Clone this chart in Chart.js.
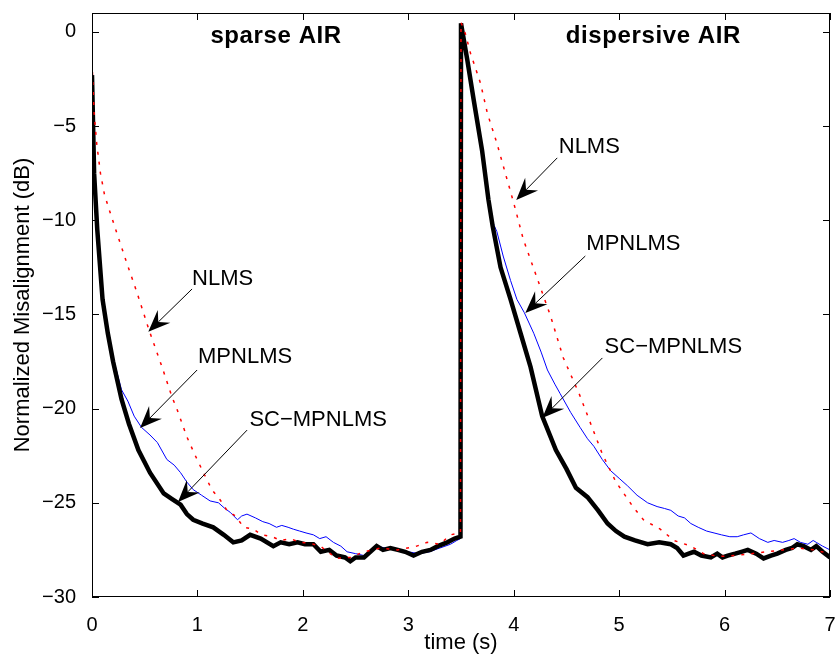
<!DOCTYPE html>
<html>
<head>
<meta charset="utf-8">
<script src="https://cdn.jsdelivr.net/npm/chart.js@4.4.1/dist/chart.umd.min.js"></script>
<style>
  html, body { margin: 0; padding: 0; background: #fff; }
  #wrap { width: 835px; height: 657px; }
</style>
</head>
<body>
<div id="wrap"><canvas id="chartMisalign"></canvas></div>
<script>
// valeurs (temps en s, désalignement en dB)
var xTicks = [0, 1, 2, 3, 4, 5, 6, 7];
var yTicks = [-30, -25, -20, -15, -10, -5, 0];

// NLMS (pointillé rouge)
var tNlms = [0, 0.02, 0.045, 0.08, 0.117, 0.155, 0.235, 0.33, 0.425, 0.544, 0.665, 0.76, 0.804, 0.9, 0.98, 1.057, 1.137, 1.216, 1.28, 1.36, 1.44, 1.53, 1.61, 1.71, 1.79, 1.88, 1.975, 2.07, 2.165, 2.26, 2.32, 2.45, 2.58, 2.74, 2.9, 3.08, 3.18, 3.3, 3.4, 3.495,
  3.5, 3.54, 3.59, 3.685, 3.75, 3.84, 3.92, 3.97, 4.02, 4.09, 4.23, 4.35, 4.47, 4.62, 4.73, 4.84, 4.97, 5.13, 5.23, 5.39, 5.52, 5.68, 5.8, 5.95, 6.1, 6.25, 6.4, 6.55, 6.7, 6.85, 7.0];
var yNlms = [-1.6, -4.3, -5.95, -7.5, -8.6, -9.3, -10.67, -12.27, -13.81, -15.88, -17.8, -19.4, -20.0, -21.5, -22.5, -23.4, -24.3, -24.85, -25.4, -25.7, -26.3, -26.4, -26.7, -26.8, -27.0, -26.9, -27.1, -27.15, -27.3, -27.7, -27.95, -27.9, -27.6, -27.4, -27.5, -27.3, -27.1, -27.2, -26.7, -26.6,
  0.5, -0.07, -1.13, -2.73, -4.32, -5.9, -7.5, -8.48, -9.5, -11.0, -13.2, -15.1, -17.3, -19.2, -20.8, -22.4, -23.9, -25.2, -25.9, -26.4, -27.0, -27.3, -27.7, -27.85, -27.8, -27.7, -27.6, -27.5, -27.4, -27.5, -27.7];

// MPNLMS (bleu fin)
var tMpnlms = [0, 0.02, 0.05, 0.1, 0.15, 0.2, 0.28, 0.34, 0.4, 0.47, 0.55, 0.62, 0.71, 0.78, 0.84, 0.9, 0.96, 1.04, 1.12, 1.2, 1.26, 1.31, 1.38, 1.42, 1.47, 1.55, 1.62, 1.68, 1.75, 1.8, 1.86, 1.91, 1.97, 2.03, 2.1, 2.16, 2.22, 2.29, 2.36, 2.42, 2.5, 2.58, 2.64, 2.7, 2.78, 2.85, 2.92, 3.0, 3.1, 3.2, 3.3, 3.4, 3.46, 3.495,
  3.5, 3.56, 3.62, 3.7, 3.76, 3.8, 3.84, 3.9, 3.97, 4.03, 4.1, 4.19, 4.26, 4.32, 4.39, 4.44, 4.54, 4.63, 4.7, 4.76, 4.84, 4.92, 5.0, 5.08, 5.17, 5.27, 5.36, 5.43, 5.49, 5.56, 5.62, 5.68, 5.75, 5.83, 5.9, 5.97, 6.05, 6.12, 6.18, 6.25, 6.33, 6.41, 6.47, 6.55, 6.61, 6.66, 6.72, 6.79, 6.84, 6.87, 6.93, 7.0];
var yMpnlms = [-2.3, -7.5, -10.5, -14.1, -15.9, -17.3, -19.0, -19.6, -20.4, -21.0, -21.4, -21.8, -22.7, -23.0, -23.4, -23.9, -24.3, -24.6, -24.9, -25.0, -25.3, -25.5, -25.9, -25.7, -25.6, -25.8, -26.0, -26.1, -26.3, -26.2, -26.3, -26.4, -26.5, -26.6, -26.7, -26.9, -26.8, -27.1, -27.3, -27.6, -27.7, -27.8, -27.5, -27.3, -27.4, -27.4, -27.5, -27.6, -27.7, -27.6, -27.4, -27.2, -27.0, -26.9,
  0.45, -1.5, -3.6, -6.3, -8.9, -10.1, -10.6, -11.9, -13.2, -14.2, -14.9, -16.0, -17.0, -17.95, -18.7, -19.2, -20.2, -21.0, -21.6, -22.0, -22.7, -23.3, -23.7, -24.1, -24.6, -25.0, -25.2, -25.3, -25.4, -25.7, -25.8, -26.1, -26.3, -26.5, -26.6, -26.7, -26.8, -26.8, -26.7, -26.6, -26.9, -27.1, -27.0, -27.1, -27.0, -26.9, -27.1, -27.2, -27.0, -27.1, -27.3, -27.5];

// SC-MPNLMS (noir épais)
var tScMpnlms = [0, 0.02, 0.05, 0.1, 0.15, 0.2, 0.28, 0.35, 0.44, 0.55, 0.68, 0.76, 0.84, 0.9, 0.96, 1.05, 1.15, 1.25, 1.34, 1.42, 1.5, 1.6, 1.72, 1.79, 1.87, 1.95, 2.02, 2.1, 2.17, 2.25, 2.32, 2.4, 2.45, 2.5, 2.58, 2.64, 2.7, 2.76, 2.83, 2.9, 2.97, 3.05, 3.13, 3.21, 3.28, 3.37, 3.44, 3.495,
  3.5, 3.56, 3.62, 3.7, 3.76, 3.8, 3.875, 3.97, 4.065, 4.16, 4.27, 4.4, 4.5, 4.59, 4.7, 4.8, 4.89, 4.97, 5.05, 5.15, 5.27, 5.38, 5.49, 5.55, 5.61, 5.66, 5.71, 5.78, 5.87, 5.93, 5.98, 6.03, 6.1, 6.16, 6.22, 6.3, 6.37, 6.44, 6.5, 6.58, 6.64, 6.69, 6.75, 6.82, 6.87, 6.93, 7.0];
var yScMpnlms = [-2.3, -7.5, -10.5, -14.2, -16.0, -17.5, -19.5, -20.8, -22.2, -23.4, -24.5, -24.8, -25.1, -25.6, -25.9, -26.1, -26.3, -26.7, -27.1, -27.0, -26.7, -26.9, -27.3, -27.1, -27.2, -27.1, -27.2, -27.2, -27.6, -27.5, -27.8, -27.9, -28.1, -27.9, -27.9, -27.6, -27.3, -27.5, -27.4, -27.5, -27.6, -27.8, -27.6, -27.5, -27.3, -27.1, -26.9, -26.8,
  0.45, -1.5, -3.6, -6.3, -8.9, -10.3, -12.5, -14.2, -16.0, -17.8, -20.4, -22.2, -23.2, -24.2, -24.7, -25.4, -26.1, -26.5, -26.8, -27.0, -27.2, -27.1, -27.2, -27.4, -27.8, -27.7, -27.6, -27.8, -27.9, -27.7, -27.9, -27.8, -27.7, -27.6, -27.5, -27.7, -27.95, -27.8, -27.7, -27.5, -27.4, -27.2, -27.3, -27.5, -27.3, -27.6, -27.9];

// annotations : texte, début du trait, pointe de la flèche (coordonnées des données)
var annotations = [
  { text: 'NLMS',      tx: 1.239, ty: -13.44, x0: 0.949, y0: -13.65, x1: 0.534, y1: -15.92 },
  { text: 'MPNLMS',    tx: 1.452, ty: -17.58, x0: 0.997, y0: -17.95, x1: 0.456, y1: -21.03 },
  { text: 'SC\u2212MPNLMS', tx: 2.145, ty: -20.92, x0: 1.471, y0: -21.14, x1: 0.816, y1: -24.96 },
  { text: 'NLMS',      tx: 4.717, ty: -6.43,  x0: 4.413, y0: -6.69,  x1: 4.024, y1: -8.92 },
  { text: 'MPNLMS',    tx: 5.135, ty: -11.58, x0: 4.679, y0: -11.9,  x1: 4.11,  y1: -14.92 },
  { text: 'SC\u2212MPNLMS', tx: 5.514, ty: -17.05, x0: 4.841, y0: -17.31, x1: 4.271, y1: -20.5 }
];
var panelTitles = [
  { text: 'sparse AIR', tx: 1.746, ty: -0.58 },
  { text: 'dispersive AIR', tx: 5.325, ty: -0.58 }
];

function toPoints(ts, ys) {
  var pts = [];
  for (var i = 0; i < ts.length; i++) pts.push({ x: ts[i], y: ys[i] });
  return pts;
}

function minus(v) {
  return String(v).replace('-', '\u2212');
}

// pas de marge automatique autour des axes : la zone du graphe suit layout.padding
function noPadding(s) {
  s.paddingLeft = 0; s.paddingRight = 0; s.paddingTop = 0; s.paddingBottom = 0;
}

var fontFamily = '"Liberation Sans", Arial, Helvetica, sans-serif';

// cadre, graduations vers l'intérieur, titres et flèches
const decorPlugin = {
  id: 'decor',
  afterDatasetsDraw(chart) {
    const ctx = chart.ctx;
    const a = chart.chartArea;
    const xs = chart.scales.x, ys = chart.scales.y;
    ctx.save();
    ctx.strokeStyle = '#000';
    ctx.lineWidth = 1;
    ctx.strokeRect(a.left + 0.5, a.top + 0.5, a.right - a.left - 1, a.bottom - a.top - 1);
    ctx.beginPath();
    xTicks.forEach(function (v) {
      var px = Math.round(xs.getPixelForValue(v)) + 0.5;
      ctx.moveTo(px, a.bottom); ctx.lineTo(px, a.bottom - 7);
      ctx.moveTo(px, a.top); ctx.lineTo(px, a.top + 7);
    });
    yTicks.forEach(function (v) {
      var py = Math.round(ys.getPixelForValue(v)) + 0.5;
      ctx.moveTo(a.left, py); ctx.lineTo(a.left + 7, py);
      ctx.moveTo(a.right, py); ctx.lineTo(a.right - 7, py);
    });
    ctx.stroke();

    ctx.fillStyle = '#000';
    ctx.textAlign = 'center';
    ctx.textBaseline = 'alphabetic';
    ctx.font = 'bold 24px ' + fontFamily;
    ctx.letterSpacing = '0.6px';
    panelTitles.forEach(function (p) {
      ctx.fillText(p.text, xs.getPixelForValue(p.tx), ys.getPixelForValue(p.ty));
    });
    ctx.letterSpacing = '0px';

    ctx.font = '22px ' + fontFamily;
    annotations.forEach(function (an) {
      ctx.fillText(an.text, xs.getPixelForValue(an.tx), ys.getPixelForValue(an.ty));
      var x0 = xs.getPixelForValue(an.x0), y0 = ys.getPixelForValue(an.y0);
      var x1 = xs.getPixelForValue(an.x1), y1 = ys.getPixelForValue(an.y1);
      var ang = Math.atan2(y1 - y0, x1 - x0);
      var len = 22, half = 9, notch = 14;
      var bx = x1 - notch * Math.cos(ang), by = y1 - notch * Math.sin(ang);
      ctx.beginPath();
      ctx.moveTo(x0, y0); ctx.lineTo(bx, by);
      ctx.lineWidth = 1;
      ctx.stroke();
      var cx = x1 - len * Math.cos(ang), cy = y1 - len * Math.sin(ang);
      ctx.beginPath();
      ctx.moveTo(x1, y1);
      ctx.lineTo(cx - half * Math.sin(ang), cy + half * Math.cos(ang));
      ctx.lineTo(bx, by);
      ctx.lineTo(cx + half * Math.sin(ang), cy - half * Math.cos(ang));
      ctx.closePath();
      ctx.fill();
    });
    ctx.restore();
  }
};

const ctxMisalign = document.getElementById('chartMisalign').getContext('2d');
new Chart(ctxMisalign, {
  type: 'line',
  data: {
    datasets: [
      {
        label: 'NLMS',
        data: toPoints(tNlms, yNlms),
        borderColor: '#ff0000',
        borderWidth: 1.5,
        borderDash: [3, 7],
        pointRadius: 0,
        tension: 0,
        order: 0
      },
      {
        label: 'SC-MPNLMS',
        data: toPoints(tScMpnlms, yScMpnlms),
        borderColor: '#000000',
        borderWidth: 4.5,
        pointRadius: 0,
        tension: 0,
        order: 1
      },
      {
        label: 'MPNLMS',
        data: toPoints(tMpnlms, yMpnlms),
        borderColor: '#0000ff',
        borderWidth: 1,
        pointRadius: 0,
        tension: 0,
        order: 2
      }
    ]
  },
  options: {
    responsive: true,
    maintainAspectRatio: false,
    animation: false,
    layout: { padding: { left: 0, top: 13, right: 5, bottom: 0 } },
    plugins: {
      legend: { display: false },
      tooltip: { enabled: false }
    },
    scales: {
      x: {
        type: 'linear',
        min: 0,
        max: 7,
        afterBuildTicks: function (s) { s.ticks = xTicks.map(function (v) { return { value: v }; }); },
        afterFit: function (s) { s.height = 60; noPadding(s); },
        grid: { display: false },
        border: { display: false },
        ticks: {
          color: '#000',
          padding: 8,
          maxRotation: 0,
          font: { family: fontFamily, size: 20 },
          callback: function (v) { return minus(v); }
        },
        title: {
          display: true,
          text: 'time (s)',
          color: '#000',
          font: { family: fontFamily, size: 22 },
          padding: { top: 0, bottom: 1 }
        }
      },
      y: {
        type: 'linear',
        min: -30,
        max: 1,
        afterBuildTicks: function (s) { s.ticks = yTicks.map(function (v) { return { value: v }; }); },
        afterFit: function (s) { s.width = 92; noPadding(s); },
        grid: { display: false },
        border: { display: false },
        ticks: {
          color: '#000',
          padding: 8,
          font: { family: fontFamily, size: 20 },
          callback: function (v) { return minus(v); }
        },
        title: {
          display: true,
          text: 'Normalized Misalignment (dB)',
          color: '#000',
          font: { family: fontFamily, size: 22 },
          padding: { top: 10, bottom: 0 }
        }
      }
    }
  },
  plugins: [decorPlugin]
});
</script>
</body>
</html>
